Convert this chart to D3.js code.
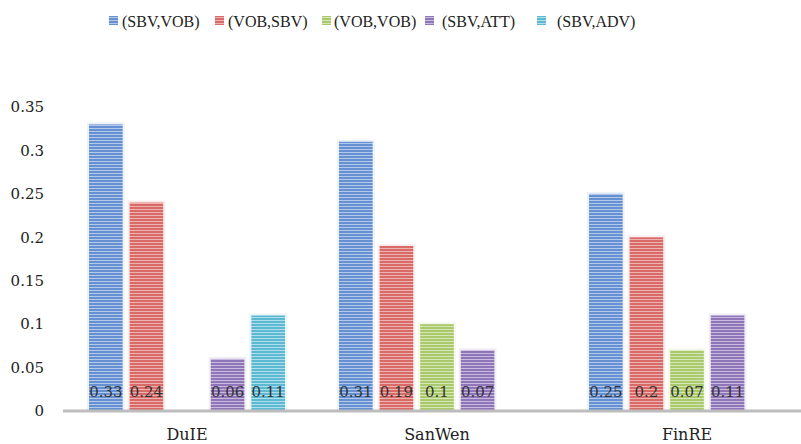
<!DOCTYPE html>
<html>
<head>
<meta charset="utf-8">
<script src="https://cdn.jsdelivr.net/npm/d3@7"></script>
<style>
  html, body { margin: 0; padding: 0; background: #fff; }
  svg { display: block; font-family: "DejaVu Serif", "Liberation Serif", serif; }
</style>
</head>
<body>
<svg id="chart" width="801" height="444"></svg>
<script>
// Datasets along the x axis
const categories = ["DuIE", "SanWen", "FinRE"];
// Dependency-pair series (null = no bar)
const seriesNames = ["(SBV,VOB)", "(VOB,SBV)", "(VOB,VOB)", "(SBV,ATT)", "(SBV,ADV)"];
const sbvVob = [0.33, 0.31, 0.25];
const vobSbv = [0.24, 0.19, 0.2];
const vobVob = [null, 0.1, 0.07];
const sbvAtt = [0.06, 0.07, 0.11];
const sbvAdv = [0.11, null, null];
const seriesValues = [sbvVob, vobSbv, vobVob, sbvAtt, sbvAdv];
const yTicks = [0, 0.05, 0.1, 0.15, 0.2, 0.25, 0.3, 0.35];

const colors = ["#6591d3", "#d86a67", "#a9c96a", "#8f76b8", "#5db8d2"];
const stripes = ["#b3c8ea", "#eeb3b1", "#d6e6b6", "#c7bade", "#ade0ec"];

const svg = d3.select("#chart");
const defs = svg.append("defs");
colors.forEach((c, i) => {
  const p = defs.append("pattern")
    .attr("id", "stripe" + i)
    .attr("patternUnits", "userSpaceOnUse")
    .attr("width", 8).attr("height", 3);
  p.append("rect").attr("width", 8).attr("height", 3).attr("fill", c);
  p.append("rect").attr("y", 2).attr("width", 8).attr("height", 1).attr("fill", stripes[i]);
});

const x0 = d3.scaleBand().domain(categories).range([62, 812]).paddingInner(0).paddingOuter(0);
const x1 = d3.scaleBand().domain(d3.range(seriesNames.length))
  .range([27, 223]).paddingInner(0.17).paddingOuter(0);
const y = d3.scaleLinear().domain([0, 0.35]).range([411, 107]);

// y tick labels
svg.append("g").selectAll("text").data(yTicks).join("text")
  .attr("x", 44).attr("y", d => y(d))
  .attr("dy", "0.35em")
  .attr("text-anchor", "end")
  .attr("font-size", 15)
  .attr("fill", "#222")
  .text(d => d3.format("")(d));

// bars
const groups = svg.append("g").selectAll("g").data(categories).join("g")
  .attr("transform", d => `translate(${x0(d)},0)`);

groups.each(function(cat, ci) {
  const g = d3.select(this);
  const items = seriesValues.map((vals, si) => ({ si, v: vals[ci] })).filter(d => d.v != null);
  g.selectAll("rect.glow").data(items).join("rect")
    .attr("class", "glow")
    .attr("x", d => x1(d.si) - 1)
    .attr("y", d => y(d.v) - 1)
    .attr("width", x1.bandwidth() + 2)
    .attr("height", d => y(0) - y(d.v) + 1)
    .attr("fill", "none")
    .attr("stroke", (d) => colors[d.si])
    .attr("stroke-opacity", 0.12)
    .attr("stroke-width", 2);
  g.selectAll("rect.bar").data(items).join("rect")
    .attr("class", "bar")
    .attr("x", d => x1(d.si))
    .attr("y", d => y(d.v))
    .attr("width", x1.bandwidth())
    .attr("height", d => y(0) - y(d.v))
    .attr("fill", d => `url(#stripe${d.si})`);
  g.selectAll("text.val").data(items).join("text")
    .attr("class", "val")
    .attr("x", d => x1(d.si) + x1.bandwidth() / 2)
    .attr("y", 392)
    .attr("dy", "0.35em")
    .attr("text-anchor", "middle")
    .attr("font-size", 15)
    .attr("fill", "#333")
    .text(d => d3.format("")(d.v));
});

// baseline
svg.append("line")
  .attr("x1", 63).attr("x2", 801)
  .attr("y1", y(0)).attr("y2", y(0))
  .attr("stroke", "#bdbdbd").attr("stroke-width", 3);

// category labels
svg.append("g").selectAll("text").data(categories).join("text")
  .attr("x", d => x0(d) + x0.bandwidth() / 2)
  .attr("y", 434)
  .attr("dy", "0.35em")
  .attr("text-anchor", "middle")
  .attr("font-size", 16)
  .attr("fill", "#222")
  .text(d => d);

// legend
const legendX = [109, 215, 322, 425, 537];
const legendTextX = [122, 228, 334, 442, 557];
const legend = svg.append("g");
seriesNames.forEach((name, i) => {
  legend.append("rect")
    .attr("x", legendX[i]).attr("y", 16)
    .attr("width", 9).attr("height", 9)
    .attr("fill", `url(#stripe${i})`);
  legend.append("text")
    .attr("x", legendTextX[i]).attr("y", 21)
    .attr("dy", "0.35em")
    .attr("font-family", "Liberation Serif, serif")
    .attr("font-size", 16)
    .attr("fill", "#222")
    .text(name);
});
</script>
</body>
</html>
